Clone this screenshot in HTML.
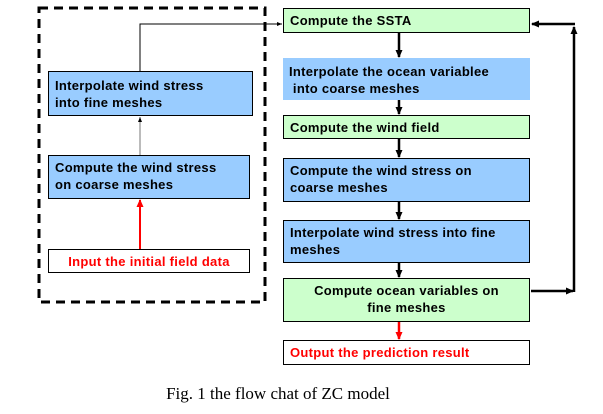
<!DOCTYPE html>
<html><head><meta charset="utf-8"><style>
body{margin:0;background:#fff;width:603px;height:414px;overflow:hidden;position:relative;font-family:"Liberation Sans",sans-serif}
.b{position:absolute;box-sizing:border-box;border:1px solid #000;font-weight:bold;font-size:13px;line-height:17px;padding:3px 6px;color:#000;letter-spacing:0.3px}
.g{background:#ccffcc}.bl{background:#99ccff}.w{background:#fff;color:#f00}
svg{position:absolute;left:0;top:0}
</style></head><body>
<svg width="603" height="414">
<defs>
<marker id="k" markerUnits="userSpaceOnUse" markerWidth="8" markerHeight="8" refX="7" refY="4" orient="auto"><path d="M0,0.5L8,4L0,7.5z" fill="#000"/></marker>
<marker id="r" markerUnits="userSpaceOnUse" markerWidth="8" markerHeight="8" refX="7" refY="4" orient="auto"><path d="M0,0.5L8,4L0,7.5z" fill="#f00"/></marker>
<marker id="s" markerUnits="userSpaceOnUse" markerWidth="5" markerHeight="5" refX="5" refY="2.5" orient="auto"><path d="M0,0.5L5,2.5L0,4.5z" fill="#000"/></marker>
</defs>
<rect x="39" y="8" width="226" height="294" fill="none" stroke="#000" stroke-width="3" stroke-dasharray="9,6"/>
<line x1="140" y1="249" x2="140" y2="200" stroke="#f00" stroke-width="2" marker-end="url(#r)"/>
<line x1="140" y1="155" x2="140" y2="117" stroke="#777" stroke-width="1" marker-end="url(#s)"/>
<polyline points="140,71 140,24 282,24" fill="none" stroke="#000" stroke-width="1" marker-end="url(#s)"/>
<g stroke="#000" stroke-width="2.5">
<line x1="399" y1="33" x2="399" y2="57" marker-end="url(#k)"/>
<line x1="399" y1="100" x2="399" y2="114" marker-end="url(#k)"/>
<line x1="399" y1="139" x2="399" y2="157" marker-end="url(#k)"/>
<line x1="399" y1="202" x2="399" y2="219" marker-end="url(#k)"/>
<line x1="399" y1="263" x2="399" y2="277" marker-end="url(#k)"/>
<polyline points="531,291 573,291" fill="none" marker-end="url(#k)"/>
<polyline points="574,292 574,27" fill="none" marker-end="url(#k)"/>
<polyline points="575,24 532,24" fill="none" marker-end="url(#k)"/>
</g>
<line x1="399" y1="322" x2="399" y2="339" stroke="#f00" stroke-width="2.5" marker-end="url(#r)"/>
</svg>
<div class="b bl" style="left:48px;top:71px;width:205px;height:45px;padding-top:5px">Interpolate wind stress<br>into fine meshes</div>
<div class="b bl" style="left:48px;top:155px;width:202px;height:44px">Compute the wind stress<br>on coarse meshes</div>
<div class="b w" style="left:48px;top:249px;width:202px;height:24px;text-align:center;padding-top:3px">Input the initial field data</div>
<div class="b g" style="left:283px;top:8px;width:247px;height:25px">Compute the SSTA</div>
<div class="b bl" style="left:283px;top:58px;width:247px;height:42px;border:none;padding-top:5px">Interpolate the ocean variablee<br>&nbsp;into coarse meshes</div>
<div class="b g" style="left:283px;top:115px;width:247px;height:24px">Compute the wind field</div>
<div class="b bl" style="left:283px;top:158px;width:247px;height:44px">Compute the wind stress on<br>coarse meshes</div>
<div class="b bl" style="left:283px;top:220px;width:247px;height:43px">Interpolate wind stress into fine<br>meshes</div>
<div class="b g" style="left:283px;top:278px;width:247px;height:44px;text-align:center">Compute ocean variables on<br>fine meshes</div>
<div class="b w" style="left:283px;top:340px;width:247px;height:25px">Output the prediction result</div>
<div style="position:absolute;left:163px;width:230px;top:384px;text-align:center;font-family:'Liberation Serif',serif;font-size:17px;white-space:nowrap">Fig. 1 the flow chat of ZC model</div>
</body></html>
